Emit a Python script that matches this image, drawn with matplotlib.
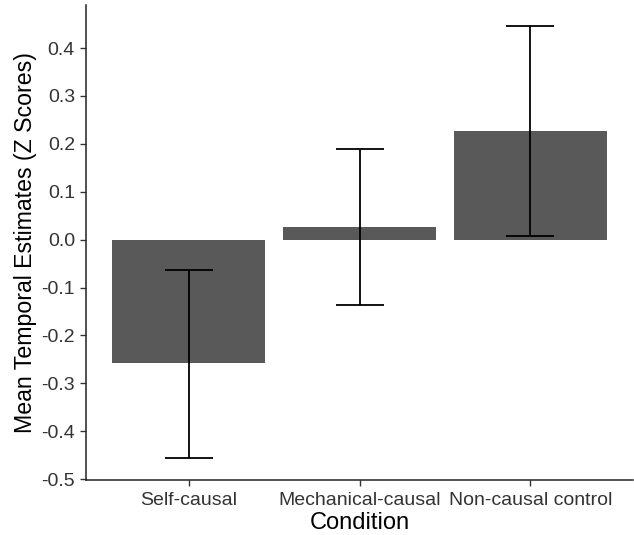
import matplotlib
matplotlib.use('Agg')
import matplotlib.pyplot as plt
import numpy as np

plt.rcParams['font.family'] = ['Liberation Sans', 'DejaVu Sans']

# condition means and error bar ends (Z scores)
conditions = ['Self-causal', 'Mechanical-causal', 'Non-causal control']
means = [-0.258, 0.026, 0.227]
err_low = [-0.456, -0.137, 0.007]
err_high = [-0.064, 0.190, 0.446]
yticks = [-0.5, -0.4, -0.3, -0.2, -0.1, 0.0, 0.1, 0.2, 0.3, 0.4]

fig = plt.figure(figsize=(6.34, 5.35), dpi=100)
ax = fig.add_axes([86/634, 1-480/535, (633-86)/634, (480-5)/535])

x = np.arange(1, len(conditions)+1)
ax.bar(x, means, width=0.9, color='#595959', zorder=1)
yerr = [np.array(means)-np.array(err_low), np.array(err_high)-np.array(means)]
ax.errorbar(x, means, yerr=yerr, fmt='none', ecolor='black', elinewidth=1.3,
            capsize=17, capthick=1.3, zorder=2)

ax.set_xlim(0.4, 3.6)
ax.set_ylim(-0.502, 0.49)
ax.set_xticks(x)
ax.set_xticklabels(conditions)
ax.set_yticks(yticks)
ax.set_yticklabels(['%.1f' % v for v in yticks])

for s in ['top', 'right']:
    ax.spines[s].set_visible(False)
for s in ['left', 'bottom']:
    ax.spines[s].set_linewidth(1.1)
    ax.spines[s].set_color('#222222')
ax.tick_params(direction='out', length=4.5, width=1.0, color='#333333',
               labelsize=14, labelcolor='#333333')
ax.tick_params(axis='y', pad=3.5)
ax.tick_params(axis='x', pad=4)

ax.set_xlabel('Condition', fontsize=17, labelpad=2.5)
ax.set_ylabel('Mean Temporal Estimates (Z Scores)', fontsize=16.7, labelpad=3)

fig.savefig('out.png', dpi=100)
